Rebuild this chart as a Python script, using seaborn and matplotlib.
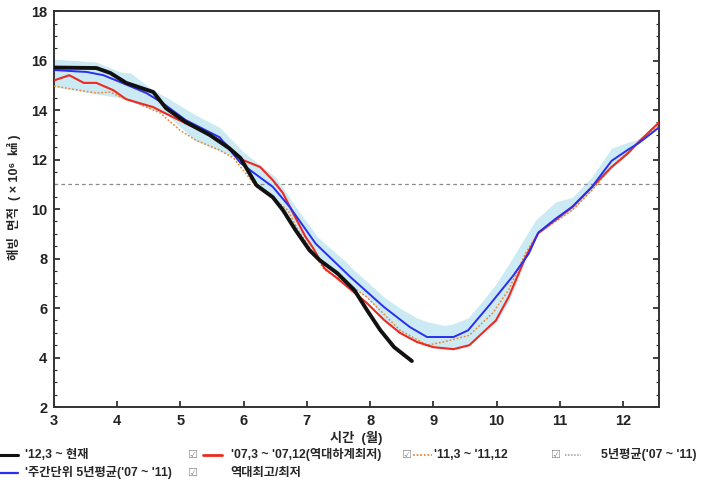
import matplotlib
matplotlib.use('Agg')
import matplotlib.pyplot as plt
from matplotlib.lines import Line2D
from matplotlib.ticker import MultipleLocator
import seaborn as sns
import numpy as np

sns.set_style('ticks')
plt.rcParams['font.family'] = ['Liberation Sans', 'Noto Sans CJK KR', 'DejaVu Sans']

# ---- data (month, sea-ice extent in 10^6 km2) ----
x_2012 = [3.0, 3.67, 3.89, 4.14, 4.57, 4.77, 5.08, 5.46, 5.77, 5.95, 6.2, 6.46,
          6.62, 6.82, 7.04, 7.2, 7.48, 7.75, 7.95, 8.16, 8.38, 8.66]
y_2012 = [15.72, 15.7, 15.5, 15.1, 14.73, 14.08, 13.52, 13.0, 12.46, 12.06, 10.97, 10.48,
          9.96, 9.15, 8.34, 7.94, 7.41, 6.73, 5.92, 5.11, 4.42, 3.86]

x_2007 = [3.0, 3.24, 3.47, 3.67, 3.94, 4.14, 4.57, 4.72, 5.08, 5.3, 5.7, 5.99, 6.26,
          6.46, 6.62, 6.78, 6.98, 7.09, 7.28, 7.48, 7.95, 8.22, 8.47, 8.74, 9.0, 9.32,
          9.57, 9.99, 10.19, 10.46, 10.66, 10.93, 11.2, 11.51, 11.82, 12.08, 12.23, 12.57]
y_2007 = [15.2, 15.41, 15.1, 15.1, 14.8, 14.44, 14.12, 13.92, 13.47, 13.2, 12.67, 11.98, 11.7,
          11.17, 10.65, 9.84, 8.87, 8.46, 7.6, 7.2, 6.2, 5.52, 5.0, 4.63, 4.42, 4.34,
          4.5, 5.5, 6.44, 8.06, 9.03, 9.56, 10.08, 10.89, 11.7, 12.26, 12.67, 13.5]

x_2011 = [3.0, 3.67, 3.89, 4.05, 4.21, 4.68, 4.99, 5.24, 5.62, 5.84, 6.2, 6.46, 6.7,
          6.86, 7.28, 7.64, 7.95, 8.47, 8.9, 9.16, 9.57, 9.94, 10.19, 10.46, 10.66,
          11.2, 11.51, 11.82, 12.08, 12.57]
y_2011 = [14.97, 14.69, 14.73, 14.53, 14.4, 13.88, 13.19, 12.79, 12.38, 12.06, 10.9, 10.45, 9.95,
          9.15, 7.54, 7.0, 6.44, 5.11, 4.5, 4.63, 4.9, 5.8, 6.73, 8.22, 9.03,
          9.96, 10.77, 11.7, 12.3, 13.4]

x_weekly = [3.0, 3.52, 3.78, 4.05, 4.46, 4.72, 5.08, 5.62, 5.95, 6.46, 6.73, 7.14, 7.69,
            8.22, 8.63, 8.9, 9.32, 9.55, 9.88, 10.26, 10.51, 10.66, 10.93, 11.2, 11.51,
            11.82, 12.08, 12.25, 12.57]
y_weekly = [15.62, 15.54, 15.41, 15.13, 14.69, 14.28, 13.6, 12.9, 11.86, 10.9, 10.08, 8.6, 7.25,
            6.04, 5.23, 4.83, 4.83, 5.1, 6.1, 7.3, 8.2, 9.05, 9.6, 10.1, 10.9,
            11.95, 12.4, 12.67, 13.3]

x_band = [3.0, 3.67, 4.05, 4.21, 4.57, 4.77, 5.24, 5.62, 6.0, 6.2, 6.5, 6.82, 7.17, 7.6,
          7.69, 8.0, 8.22, 8.47, 8.74, 8.9, 9.16, 9.3, 9.55, 9.79, 10.0, 10.2, 10.3, 10.46,
          10.62, 10.93, 11.2, 11.51, 11.82, 12.08, 12.2, 12.57]
y_band_max = [16.06, 15.94, 15.54, 15.5, 14.8, 14.53, 13.8, 13.3, 12.3, 11.9, 11.3, 10.1, 8.87, 7.9,
              7.66, 6.95, 6.44, 6.0, 5.6, 5.45, 5.3, 5.35, 5.6, 6.32, 7.0, 7.8, 8.22, 8.9,
              9.56, 10.28, 10.48, 11.3, 12.46, 12.7, 12.79, 13.35]
y_band_min = [14.95, 14.65, 14.5, 14.35, 14.0, 13.85, 12.75, 12.35, 11.95, 10.85, 10.35, 9.1, 8.0, 7.0,
              6.95, 6.3, 5.5, 5.0, 4.6, 4.45, 4.35, 4.3, 4.45, 5.1, 5.45, 6.3, 6.9, 8.0,
              8.9, 9.5, 9.95, 10.75, 11.65, 12.2, 12.55, 13.3]

avg_5yr = 11.0
month_ticks = [3, 4, 5, 6, 7, 8, 9, 10, 11, 12]
extent_ticks = [2, 4, 6, 8, 10, 12, 14, 16, 18]

fig = plt.figure(figsize=(7.21, 4.84), dpi=100)
ax = fig.add_axes([0.075, 0.159, 0.839, 0.818])

ax.fill_between(x_band, y_band_min, y_band_max, color='#cbeaf4', linewidth=0, zorder=1)
ax.axhline(avg_5yr, color='#8a8a8a', linestyle=(0, (3, 2.5)), linewidth=0.9, zorder=2)
sns.lineplot(x=x_2011, y=y_2011, ax=ax, color='#f0882c', linewidth=1.1,
             linestyle=(0, (1.2, 1.2)), zorder=3)
sns.lineplot(x=x_2007, y=y_2007, ax=ax, color='#ec2a22', linewidth=1.5, zorder=4)
sns.lineplot(x=x_weekly, y=y_weekly, ax=ax, color='#2a2ef0', linewidth=1.4, zorder=5)
sns.lineplot(x=x_2012, y=y_2012, ax=ax, color='#111111', linewidth=2.8, zorder=6)

ax.set_xlim(3, 12.57)
ax.set_ylim(2, 18)
ax.set_xticks(month_ticks)
ax.set_yticks(extent_ticks)
ax.yaxis.set_minor_locator(MultipleLocator(0.5))
ax.tick_params(axis='both', which='major', direction='in', length=4, width=1.2,
               labelsize=10.5, colors='#222222', right=True, top=False, pad=5)
ax.tick_params(axis='y', which='minor', direction='in', length=2, width=0.8,
               right=True, left=True)
for lab in ax.get_xticklabels() + ax.get_yticklabels():
    lab.set_fontweight('bold')
for s in ax.spines.values():
    s.set_visible(True)
    s.set_color('#333333')
    s.set_linewidth(1.4)

ax.set_xlabel('시간  (월)', fontsize=9.5, fontweight='bold', labelpad=2)
ax.set_ylabel('해빙  면적  ( × 10⁶  ㎢ )', fontsize=9, fontweight='bold')
ax.yaxis.set_label_coords(-0.054, 0.53)

# ---- legend (drawn below the axes) ----
row1, row2 = 0.060, 0.023
fs = 8.8
box_kw = dict(fontsize=8, color='#8c8c8c', va='center', family=['DejaVu Sans'])

fig.add_artist(Line2D([0.0, 0.025], [row1, row1], transform=fig.transFigure,
                      color='#111111', linewidth=2.2))
fig.text(0.035, row1, "'12,3 ~ 현재", fontsize=fs, fontweight='bold', va='center')
fig.text(0.259, row1, '☑', **box_kw)
fig.add_artist(Line2D([0.282, 0.308], [row1, row1], transform=fig.transFigure,
                      color='#ec2a22', linewidth=2.0))
fig.text(0.320, row1, "'07,3 ~ '07,12(역대하계최저)", fontsize=fs, fontweight='bold', va='center')
fig.text(0.556, row1, '☑', **box_kw)
fig.add_artist(Line2D([0.573, 0.599], [row1, row1], transform=fig.transFigure,
                      color='#f0882c', linewidth=1.3, linestyle=(0, (1, 1))))
fig.text(0.602, row1, "'11,3 ~ '11,12", fontsize=fs, fontweight='bold', va='center')
fig.text(0.763, row1, '☑', **box_kw)
fig.add_artist(Line2D([0.784, 0.806], [row1, row1], transform=fig.transFigure,
                      color='#9a9a9a', linewidth=1.1, linestyle=(0, (1, 1))))
fig.text(0.834, row1, "5년평균('07 ~ '11)", fontsize=fs, fontweight='bold', va='center')

fig.add_artist(Line2D([0.0, 0.025], [row2, row2], transform=fig.transFigure,
                      color='#2a2ef0', linewidth=1.6))
fig.text(0.035, row2, "'주간단위 5년평균('07 ~ '11)", fontsize=fs, fontweight='bold', va='center')
fig.text(0.259, row2, '☑', **box_kw)
fig.text(0.320, row2, '역대최고/최저', fontsize=fs, fontweight='bold', va='center')

fig.savefig('out.png', dpi=100)
